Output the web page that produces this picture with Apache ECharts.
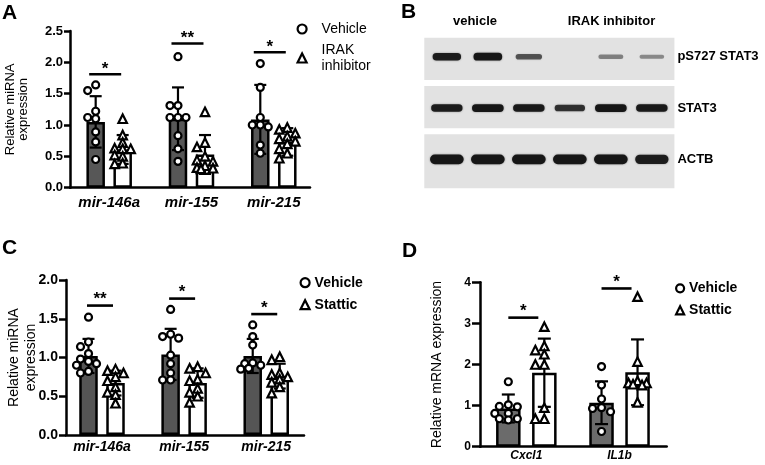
<!DOCTYPE html>
<html><head><meta charset="utf-8">
<script src="https://cdn.jsdelivr.net/npm/echarts@6/dist/echarts.min.js"></script>
<style>html,body{margin:0;padding:0;background:#fff}#c{width:765px;height:465px}</style>
</head><body><div id="c"></div>
<script>
// ---------------- Panel A data (IRAK inhibitor) ----------------
const catsA = ['mir-146a', 'mir-155', 'mir-215'];
const meanA_veh = [1.05, 1.10, 1.09];
const sdA_veh = [0.41, 0.50, 0.55];
const meanA_irak = [0.61, 0.53, 0.73];
const sdA_irak = [0.23, 0.31, 0.22];
const ptsA_veh = [
  [1.55, 1.64, 1.22, 1.12, 1.10, 0.89, 0.73, 0.45],
  [2.09, 1.31, 1.31, 1.12, 1.12, 1.12, 0.83, 0.62, 0.42],
  [1.98, 1.60, 1.12, 1.00, 1.00, 0.97, 0.68, 0.55]
];
const ptsA_irak = [
  [1.10, 0.84, 0.72, 0.62, 0.63, 0.62, 0.52, 0.50, 0.39, 0.38],
  [1.21, 0.72, 0.65, 0.50, 0.44, 0.42, 0.35, 0.32, 0.31, 0.30],
  [0.96, 0.93, 0.87, 0.82, 0.78, 0.74, 0.70, 0.62, 0.55, 0.47]
];
const sigA_level = [1.81, 2.30, 2.16];
const sigA_text = ['*', '**', '*'];

// ---------------- Panel B data (western blot) ----------------
const blotGroups = ['vehicle', 'IRAK inhibitor'];
const blotRows = ['pS727 STAT3', 'STAT3', 'ACTB'];
const bandPS727 = [0.90, 0.95, 0.55, 0.00, 0.30, 0.25];
const bandSTAT3 = [0.90, 0.95, 0.92, 0.75, 0.95, 0.92];
const bandACTB = [0.95, 0.95, 0.95, 0.95, 0.95, 0.90];

// ---------------- Panel C data (Stattic, miRNA) ----------------
const catsC = ['mir-146a', 'mir-155', 'mir-215'];
const meanC_veh = [1.02, 1.04, 1.02];
const sdC_veh = [0.22, 0.33, 0.22];
const meanC_sta = [0.67, 0.67, 0.76];
const sdC_sta = [0.16, 0.19, 0.16];
const ptsC_veh = [
  [1.52, 1.20, 1.14, 1.05, 0.98, 0.95, 0.92, 0.90, 0.82, 0.80],
  [1.62, 1.30, 1.27, 1.25, 1.03, 0.92, 0.80, 0.71, 0.71],
  [1.42, 1.27, 1.16, 0.93, 0.92, 0.90, 0.86, 0.85]
];
const ptsC_sta = [
  [0.85, 0.83, 0.80, 0.75, 0.70, 0.62, 0.55, 0.52, 0.41],
  [0.88, 0.86, 0.80, 0.72, 0.70, 0.60, 0.55, 0.50, 0.42],
  [1.01, 0.97, 0.80, 0.78, 0.75, 0.72, 0.68, 0.62, 0.54]
];
const sigC_level = [1.67, 1.76, 1.56];
const sigC_text = ['**', '*', '*'];

// ---------------- Panel D data (Stattic, mRNA) ----------------
const catsD = ['Cxcl1', 'IL1b'];
const meanD_veh = [0.93, 1.07];
const sdD_veh = [0.34, 0.52];
const meanD_sta = [1.80, 1.81];
const sdD_sta = [0.83, 0.80];
const ptsD_veh = [
  [1.58, 1.02, 0.98, 0.97, 0.81, 0.81, 0.68, 0.65, 0.68],
  [1.95, 1.50, 1.16, 0.95, 0.93, 0.85, 0.37]
];
const ptsD_sta = [
  [2.92, 2.45, 2.35, 2.25, 2.00, 2.00, 0.95, 0.68, 0.68],
  [3.65, 2.07, 1.60, 1.55, 1.55, 1.52, 1.50, 1.08]
];
const sigD_level = [3.14, 3.85];
const sigD_text = ['*', '*'];

// ---------------- layout / styling ----------------
const FONT = '"Liberation Sans", Arial, Helvetica, sans-serif';
const grids = [], xAxes = [], yAxes = [], series = [];

// deterministic, bounded dot layout (no randomness)
function swarmOffsets(vals, step, pxY) {
  const idx = vals.map((v, i) => i).sort((a, b) => vals[b] - vals[a]);
  const placed = [];
  const out = new Array(vals.length).fill(0);
  const minD = step * 0.85;
  const cands = [0, -1, 1, -0.5, 0.5, -1.5, 1.5].map(c => c * step);
  idx.forEach(i => {
    const y = vals[i] * pxY;
    let best = 0, bestD = -1;
    for (const dx of cands) {
      const d = placed.reduce((m, p) => Math.min(m, Math.hypot(p[0] - dx, p[1] - y)), Infinity);
      if (d >= minD) { best = dx; bestD = Infinity; break; }
      if (d > bestD) { bestD = d; best = dx; }
    }
    out[i] = best; placed.push([best, y]);
  });
  return out;
}

function addPanel(p) {
  const gi = grids.length;
  grids.push(Object.assign({containLabel: false, outerBoundsMode: 'none'}, p.grid));
  xAxes.push({
    gridIndex: gi, type: 'value', min: p.xMin, max: p.xMax,
    splitLine: {show: false}, axisTick: {show: false},
    axisLine: {show: true, onZero: false, lineStyle: {color: '#000', width: 2.5}},
    axisLabel: {customValues: p.cats.map((c, i) => i), formatter: v => p.cats[Math.round(v)] || '',
      color: '#000', fontFamily: FONT, fontWeight: 'bold', fontStyle: 'italic', fontSize: p.xFont, margin: p.xMargin}
  });
  yAxes.push({
    gridIndex: gi, type: 'value', min: 0, max: p.yMax, interval: p.yInt,
    splitLine: {show: false},
    axisLine: {show: true, onZero: false, lineStyle: {color: '#000', width: 2.5}},
    axisTick: {show: true, length: p.tickLen, lineStyle: {color: '#000', width: 2.5}},
    axisLabel: {color: '#000', fontFamily: FONT, fontWeight: 'bold', fontSize: p.tickFont, margin: p.yLabMargin,
      formatter: v => v.toFixed(p.dec)},
    name: p.yName, nameLocation: 'middle', nameGap: p.yNameGap, nameMoveOverlap: false,
    nameTextStyle: {color: '#000', fontFamily: FONT, fontSize: p.yNameSize, lineHeight: p.yNameLH}
  });
  const pxX = p.grid.width / (p.xMax - p.xMin);
  const pxY = p.grid.height / p.yMax;
  const offU = p.offPx / pxX;
  const groups = [
    {name: p.nameV, mean: p.meanV, sd: p.sdV, pts: p.ptsV, sign: -1, fill: p.fill, symbol: 'circle', size: p.sym},
    {name: p.nameT, mean: p.meanT, sd: p.sdT, pts: p.ptsT, sign: 1, fill: '#fff', symbol: 'triangle', size: p.sym + 1.5}
  ];
  groups.forEach(g => {
    series.push({
      type: 'scatter', name: g.name, xAxisIndex: gi, yAxisIndex: gi, z: 5, silent: true,
      symbol: g.symbol, symbolSize: g.size,
      itemStyle: {color: '#fff', borderColor: '#000', borderWidth: 2.2, opacity: 1},
      data: [].concat(...g.pts.map((vals, i) => {
        const dx = swarmOffsets(vals, p.step, pxY);
        return vals.map((v, k) => [i + g.sign * offU + dx[k] / pxX, v]);
      }))
    });
  });
  groups.forEach(g => {
    series.push({
      type: 'bar', name: g.name + ' mean', xAxisIndex: gi, yAxisIndex: gi, z: 2, silent: true,
      barWidth: p.barW, barGap: p.barGap,
      itemStyle: {color: g.fill, borderColor: '#000', borderWidth: 2.5},
      data: g.mean.map((m, i) => [i, m])
    });
  });
  groups.forEach(g => {
    series.push({
      type: 'custom', name: g.name + ' SD', xAxisIndex: gi, yAxisIndex: gi, z: 3, silent: true,
      data: g.mean.map((m, i) => [i + g.sign * offU, m, g.sd[i]]),
      renderItem: (params, api) => {
        const x = api.value(0), m = api.value(1), s = api.value(2);
        const t = api.coord([x, m + s]), b = api.coord([x, Math.max(0, m - s)]);
        const cw = p.capPx / 2, st = {stroke: '#000', lineWidth: 2.2};
        return {type: 'group', children: [
          {type: 'line', shape: {x1: t[0], y1: t[1], x2: b[0], y2: b[1]}, style: st},
          {type: 'line', shape: {x1: t[0] - cw, y1: t[1], x2: t[0] + cw, y2: t[1]}, style: st},
          {type: 'line', shape: {x1: b[0] - cw, y1: b[1], x2: b[0] + cw, y2: b[1]}, style: st}
        ]};
      }
    });
  });
  series.push({
    type: 'custom', name: 'significance', xAxisIndex: gi, yAxisIndex: gi, z: 6, silent: true,
    data: p.sig.map((l, i) => [i, l]),
    renderItem: (params, api) => {
      const c = api.coord([api.value(0), api.value(1)]);
      const cx = c[0] + p.sigDx;
      return {type: 'group', children: [
        {type: 'line', shape: {x1: cx - p.sigHalf, y1: c[1], x2: cx + p.sigHalf, y2: c[1]},
          style: {stroke: '#000', lineWidth: 2.6}},
        {type: 'text', x: cx, y: c[1] + p.astDy,
          style: {text: p.sigTxt[params.dataIndex], fill: '#000', font: 'bold ' + p.sigFont + 'px ' + FONT,
            align: 'center', verticalAlign: 'middle'}}
      ]};
    }
  });
}

addPanel({
  cats: catsA, meanV: meanA_veh, sdV: sdA_veh, meanT: meanA_irak, sdT: sdA_irak,
  ptsV: ptsA_veh, ptsT: ptsA_irak, sig: sigA_level, sigTxt: sigA_text,
  nameV: 'Vehicle', nameT: 'IRAK inhibitor',
  grid: {left: 70, top: 31, width: 240, height: 156.7}, xMin: -0.476, xMax: 2.44,
  yMax: 2.5, yInt: 0.5, dec: 1, tickLen: 6, tickFont: 13, yLabMargin: 7,
  yName: 'Relative miRNA\nexpression', yNameSize: 13, yNameLH: 13, yNameGap: 40,
  xFont: 15, xMargin: 8, barW: 18.5, barGap: '46%', offPx: 13.5, capPx: 12, fill: '#575757',
  sym: 7, step: 8, sigHalf: 16, sigDx: -4, sigFont: 17, astDy: -5
});
addPanel({
  cats: catsC, meanV: meanC_veh, sdV: sdC_veh, meanT: meanC_sta, sdT: sdC_sta,
  ptsV: ptsC_veh, ptsT: ptsC_sta, sig: sigC_level, sigTxt: sigC_text,
  nameV: 'Vehicle', nameT: 'Stattic',
  grid: {left: 66, top: 280, width: 238, height: 155}, xMin: -0.4385, xMax: 2.46,
  yMax: 2, yInt: 0.5, dec: 1, tickLen: 7, tickFont: 14, yLabMargin: 8,
  yName: 'Relative miRNA\nexpression', yNameSize: 14, yNameLH: 17, yNameGap: 26,
  xFont: 14, xMargin: 5, barW: 18.5, barGap: '46%', offPx: 13.5, capPx: 12, fill: '#555555',
  sym: 7, step: 8, sigHalf: 13, sigDx: -2, sigFont: 17, astDy: -6
});
addPanel({
  cats: catsD, meanV: meanD_veh, sdV: sdD_veh, meanT: meanD_sta, sdT: sdD_sta,
  ptsV: ptsD_veh, ptsT: ptsD_sta, sig: sigD_level, sigTxt: sigD_text,
  nameV: 'Vehicle', nameT: 'Stattic',
  grid: {left: 480, top: 282.3, width: 186.7, height: 164.4}, xMin: -0.497, xMax: 1.506,
  yMax: 4, yInt: 1, dec: 0, tickLen: 8, tickFont: 12, yLabMargin: 9,
  yName: 'Relative mRNA expression', yNameSize: 14, yNameLH: 16, yNameGap: 35,
  xFont: 12, xMargin: 3, barW: 24.5, barGap: '47%', offPx: 18, capPx: 13, fill: '#6b6b6b',
  sym: 7, step: 9, sigHalf: 15, sigDx: -3, sigFont: 17, astDy: -6
});

// ---------------- Panel B: blot drawn on its own grid ----------------
const giB = grids.length;
grids.push({left: 424.3, top: 36.2, width: 250.1, height: 153.9, containLabel: false, outerBoundsMode: 'none'});
xAxes.push({gridIndex: giB, type: 'value', min: 0.45, max: 6.55, show: false});
yAxes.push({
  gridIndex: giB, type: 'value', min: -0.4, max: 2.6, inverse: true, position: 'right',
  axisLine: {show: false}, axisTick: {show: false}, splitLine: {show: false},
  axisLabel: {customValues: [0, 1, 2], formatter: v => blotRows[Math.round(v)] || '',
    color: '#000', fontFamily: FONT, fontWeight: 'bold', fontSize: 13, margin: 3}
});
const boxPad = [[-19, 23.3], [-22, 20.3], [-25, 29]];
const bandW = [29, 32, 34];
const bandH = [8, 8, 10];
series.push({
  type: 'custom', name: 'blot membrane', xAxisIndex: giB, yAxisIndex: giB, z: 1, silent: true,
  data: blotRows.map((r, i) => [3.5, i]),
  renderItem: (params, api) => {
    const row = api.value(1);
    const l = api.coord([0.45, row]), r = api.coord([6.55, row]);
    const pad = boxPad[row];
    return {type: 'rect', shape: {x: l[0], y: l[1] + pad[0], width: r[0] - l[0], height: pad[1] - pad[0]},
      style: {fill: '#e2e2e2'}};
  }
});
const bandData = [];
[bandPS727, bandSTAT3, bandACTB].forEach((arr, row) => arr.forEach((v, lane) => bandData.push([lane + 1, row, v])));
series.push({
  type: 'custom', name: 'blot bands', xAxisIndex: giB, yAxisIndex: giB, z: 2, silent: true,
  data: bandData,
  renderItem: (params, api) => {
    const inten = api.value(2), row = api.value(1);
    if (inten <= 0.01) return null;
    const c = api.coord([api.value(0), row]);
    const h = bandH[row] * (0.35 + 0.65 * inten), w = bandW[row] * (0.8 + 0.2 * inten);
    return {type: 'rect', shape: {x: c[0] - w / 2, y: c[1] - h / 2, width: w, height: h, r: h / 2},
      style: {fill: 'rgba(18,18,18,' + (0.2 + 0.8 * inten) + ')', shadowBlur: 2, shadowColor: 'rgba(0,0,0,' + (0.5 * inten) + ')'}};
  }
});

const letter = (t, x, y) => ({type: 'text', x: x, y: y, style: {text: t, fill: '#000', font: 'bold 21px ' + FONT}});
const blotText = (t, x, y) => ({type: 'text', x: x, y: y, style: {text: t, fill: '#000', font: 'bold 13px ' + FONT, align: 'center', verticalAlign: 'middle'}});

const legendBase = {orient: 'vertical', padding: 0, selectedMode: false,
  itemStyle: {color: '#fff', borderColor: '#000', borderWidth: 2.2}};

const option = {
  animation: false,
  backgroundColor: '#fff',
  grid: grids, xAxis: xAxes, yAxis: yAxes, series: series,
  legend: [
    Object.assign({}, legendBase, {left: 296.5, top: 21, itemWidth: 9, itemHeight: 9, itemGap: 5,
      textStyle: {color: '#000', fontFamily: FONT, fontSize: 14, lineHeight: 16, padding: [0, 0, 0, 10]},
      data: [{name: 'Vehicle', icon: 'circle'}, {name: 'IRAK inhibitor', icon: 'triangle'}],
      formatter: n => n === 'IRAK inhibitor' ? 'IRAK\ninhibitor' : n}),
    Object.assign({}, legendBase, {left: 299.5, top: 274.7, itemWidth: 9, itemHeight: 9, itemGap: 6,
      textStyle: {color: '#000', fontFamily: FONT, fontSize: 14, fontWeight: 'bold', lineHeight: 16},
      data: [{name: 'Vehicle', icon: 'circle'}, {name: 'Stattic', icon: 'triangle'}]}),
    Object.assign({}, legendBase, {left: 675, top: 280.3, itemWidth: 8, itemHeight: 8, itemGap: 6,
      textStyle: {color: '#000', fontFamily: FONT, fontSize: 14, fontWeight: 'bold', lineHeight: 16},
      data: [{name: 'Vehicle', icon: 'circle'}, {name: 'Stattic', icon: 'triangle'}]})
  ],
  graphic: [
    letter('A', 2, 3), letter('B', 401, 2), letter('C', 2, 238), letter('D', 402, 241),
    blotText(blotGroups[0], 475, 21), blotText(blotGroups[1], 611.5, 21)
  ]
};
const chart = echarts.init(document.getElementById('c'), null, {renderer: 'canvas'});
chart.setOption(option);
</script>
</body></html>
